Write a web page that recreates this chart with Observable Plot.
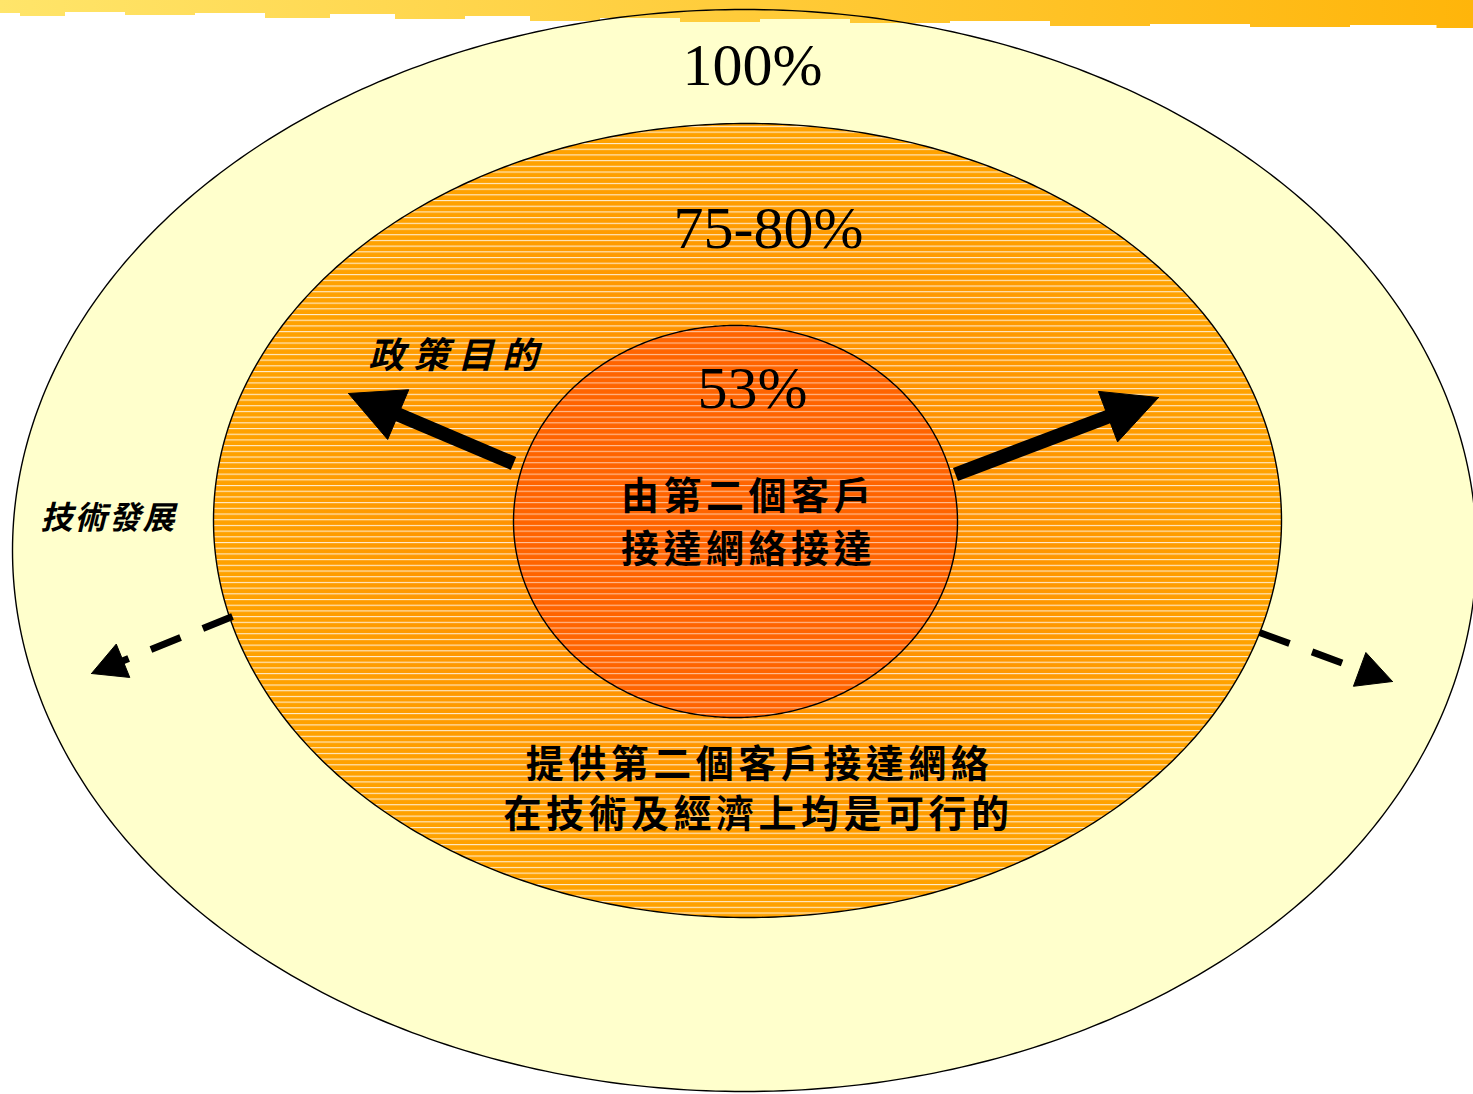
<!DOCTYPE html>
<html><head><meta charset="utf-8">
<script src="https://cdn.jsdelivr.net/npm/d3@7"></script>
<script src="https://cdn.jsdelivr.net/npm/@observablehq/plot@0.6"></script>
<style>html,body{margin:0;padding:0;background:#fff;overflow:hidden}#chart svg{display:block}</style>
</head><body><div id="chart"></div>
<script>
// ---- data ----
const ringNames = ["outer", "middle", "inner"];
const ringLabels = ["100%", "75-80%", "53%"];
const innerText = ["由第二個客戶", "接達網絡接達"];
const middleText = ["提供第二個客戶接達網絡", "在技術及經濟上均是可行的"];
const policyLabel = ["政策目的"];
const techLabel = ["技術發展"];
const arrowKinds = ["policy-left", "policy-right", "tech-left", "tech-right"];

// ---- layout (diagram geometry in page units) ----
const W = 1473, H = 1094;
const ellipseGeom = {
  outer:  {cx: 744, cy: 550, rx: 732, ry: 541},
  middle: {cx: 747, cy: 520, rx: 534, ry: 397},
  inner:  {cx: 735, cy: 521, rx: 222, ry: 196}
};
function ellipsePts(name) {
  const g = ellipseGeom[name], pts = [];
  for (let i = 0; i <= 480; i++) {
    const t = (i / 480) * 2 * Math.PI;
    pts.push({name, x: g.cx + g.rx * Math.cos(t), y: g.cy + g.ry * Math.sin(t)});
  }
  return pts;
}
const arrowGeom = {
  "policy-left":  {x1: 513, y1: 463, tx: 348, ty: 393, head: 54, hw: 27, w: 14, dashed: false},
  "policy-right": {x1: 955, y1: 474, tx: 1158, ty: 397, head: 54, hw: 27, w: 14, dashed: false},
  "tech-left":    {x1: 232, y1: 616, tx: 91, ty: 673, head: 34, hw: 18, w: 7, dashed: true},
  "tech-right":   {x1: 1259, y1: 632, tx: 1392, ty: 681, head: 35, hw: 18, w: 7, dashed: true}
};
const arrows = arrowKinds.map(k => {
  const g = arrowGeom[k];
  const dx = g.tx - g.x1, dy = g.ty - g.y1, L = Math.hypot(dx, dy);
  const ux = dx / L, uy = dy / L;
  const bx = g.tx - ux * g.head, by = g.ty - uy * g.head;
  return {...g, id: k, bx: bx + ux * 2, by: by + uy * 2,
    tri: [[g.tx, g.ty], [bx - uy * g.hw, by + ux * g.hw], [bx + uy * g.hw, by - ux * g.hw], [g.tx, g.ty]]};
});
const triPts = arrows.flatMap(a => a.tri.map(([x, y]) => ({id: a.id, x, y})));

const serif = "'Liberation Serif', 'Times New Roman', serif";
const cjk = "'Noto Sans CJK TC', 'Noto Sans CJK SC', sans-serif";
const pctItems = [
  {text: ringLabels[0], x: 752, y: 65},
  {text: ringLabels[1], x: 768, y: 228},
  {text: ringLabels[2], x: 752, y: 388}
];
const cjkItems = [
  {text: innerText[0], x: 748, y: 496},
  {text: innerText[1], x: 748, y: 549},
  {text: middleText[0], x: 759, y: 764},
  {text: middleText[1], x: 758, y: 814}
];
const italicItems = [
  {text: policyLabel[0], x: 368, y: 356, size: 36},
  {text: techLabel[0], x: 40, y: 518, size: 32}
];
const spacing = {};
cjkItems.forEach(d => spacing[d.text] = 4.5);
spacing[policyLabel[0]] = 8.5;
spacing[techLabel[0]] = 2;

// decorative brushed band at the top
const band = [[0,13],[40,16],[90,12],[160,15],[230,13],[300,18],[360,14],[430,19],[500,16],[560,21],[640,18],[720,22],[800,19],[900,23],[1000,21],[1100,26],[1200,24],[1300,27],[1400,25],[1473,28]]
  .map(([x, y]) => ({x, y}));

const svg = Plot.plot({
  width: W, height: H, margin: 0,
  x: {domain: [0, W], axis: null},
  y: {domain: [0, H], reverse: true, axis: null},
  style: {background: "white", overflow: "visible"},
  marks: [
    Plot.line(ellipsePts("outer"), {x: "x", y: "y", fill: "#FFFFCC", stroke: "none"}),
    Plot.areaY(band, {x: "x", y1: 0, y2: "y", fill: "url(#bandGrad)", curve: "step"}),
    Plot.line(ellipsePts("outer"), {x: "x", y: "y", fill: "none", stroke: "black", strokeWidth: 1.4}),
    Plot.line(ellipsePts("middle"), {x: "x", y: "y", fill: "url(#midGrad)", stroke: "none"}),
    Plot.line(ellipsePts("middle"), {x: "x", y: "y", fill: "url(#stripes)", stroke: "black", strokeWidth: 1.4}),
    Plot.line(ellipsePts("inner"), {x: "x", y: "y", fill: "#FF6400", stroke: "none"}),
    Plot.line(ellipsePts("inner"), {x: "x", y: "y", fill: "url(#stripes2)", stroke: "black", strokeWidth: 1.4}),
    Plot.link(arrows.filter(a => !a.dashed), {x1: "x1", y1: "y1", x2: "bx", y2: "by", stroke: "black", strokeWidth: 14, strokeLinecap: "butt"}),
    Plot.link(arrows.filter(a => a.dashed), {x1: "x1", y1: "y1", x2: "bx", y2: "by", stroke: "black", strokeWidth: 7, strokeLinecap: "butt", strokeDasharray: "32,24"}),
    Plot.line(triPts, {x: "x", y: "y", z: "id", fill: "black", stroke: "black", strokeWidth: 1}),
    Plot.text(pctItems, {x: "x", y: "y", text: "text", fontSize: 60, fontFamily: serif, fill: "black", textAnchor: "middle"}),
    Plot.text(cjkItems, {x: "x", y: "y", text: "text", fontSize: 38, fontFamily: cjk, fontWeight: "bold", fill: "black", textAnchor: "middle"}),
    Plot.text(italicItems, {x: "x", y: "y", text: "text", fontSize: d => d.size, fontFamily: cjk, fontWeight: "bold", fontStyle: "italic", fill: "black", textAnchor: "start"})
  ]
});

const sel = d3.select(svg);
const defs = sel.insert("defs", ":first-child");
const bg = defs.append("linearGradient").attr("id", "bandGrad").attr("x1", "0").attr("x2", "1").attr("y1", "0").attr("y2", "0");
bg.append("stop").attr("offset", "0").attr("stop-color", "#FFE56A");
bg.append("stop").attr("offset", "0.5").attr("stop-color", "#FFCC3A");
bg.append("stop").attr("offset", "1").attr("stop-color", "#FFB50A");
const mg = defs.append("radialGradient").attr("id", "midGrad").attr("cx", "0.5").attr("cy", "0.5").attr("r", "0.5");
mg.append("stop").attr("offset", "0.35").attr("stop-color", "#FF9000");
mg.append("stop").attr("offset", "1").attr("stop-color", "#FFA200");
function stripes(id, h, op) {
  const p = defs.append("pattern").attr("id", id).attr("patternUnits", "userSpaceOnUse")
    .attr("width", 20).attr("height", h);
  p.append("rect").attr("x", 0).attr("y", 0).attr("width", 20).attr("height", 1.1)
    .attr("fill", "white").attr("fill-opacity", op);
}
stripes("stripes", 5.7, 0.8);
stripes("stripes2", 5.7, 0.6);

sel.selectAll("text").each(function() {
  const t = this.textContent;
  if (spacing[t] != null) d3.select(this).attr("letter-spacing", spacing[t]);
});

document.getElementById("chart").append(svg);
</script>
</body></html>
